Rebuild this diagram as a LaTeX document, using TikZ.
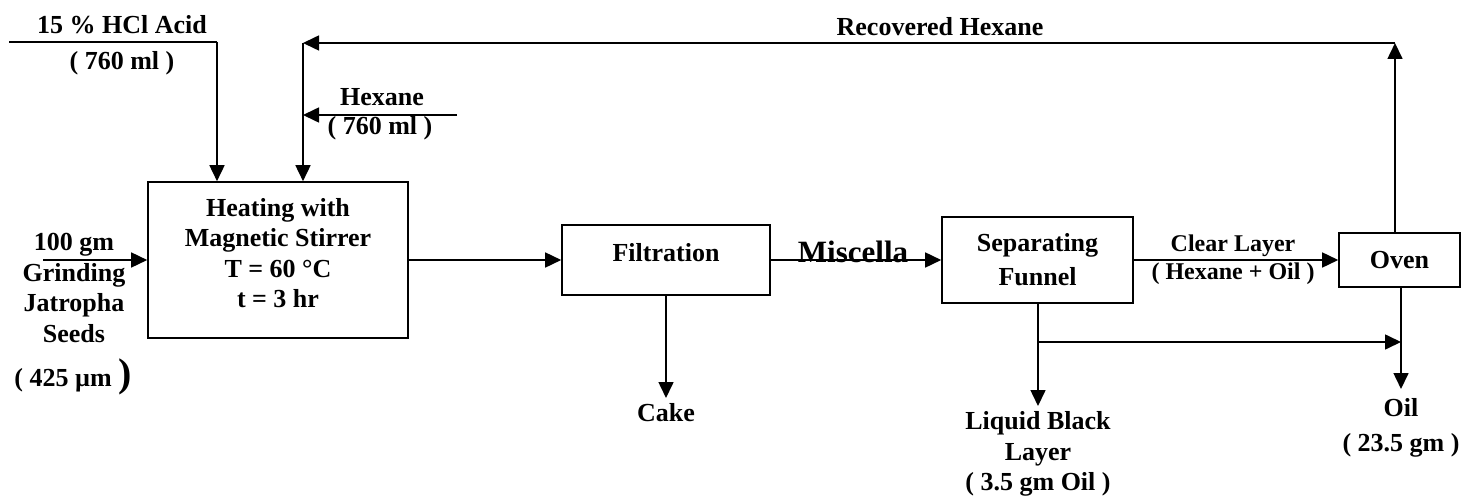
\documentclass[tikz,border=0pt]{standalone}
\usepackage{fontspec}
\setmainfont{Liberation Serif}
\usetikzlibrary{arrows.meta}
\tikzset{
  pbox/.style={draw, line width=1.6pt, inner sep=0pt},
  txt/.style={inner sep=0pt, align=center, font=\bfseries\fontsize{26}{30.5}\selectfont},
  stxt/.style={inner sep=0pt, align=center, font=\bfseries\fontsize{24}{28}\selectfont},
  flow/.style={line width=1.6pt, -{Triangle[length=16pt,width=15pt]}},
  plain/.style={line width=1.6pt}
}
\begin{document}
\begin{tikzpicture}[x=1pt,y=-1pt]
\useasboundingbox (0,0) rectangle (1463,497);
% boxes
\node[pbox, minimum width=260pt, minimum height=156pt] (heat) at (278,260) {};
\node[txt] (heattxt) at (278,253) {Heating with\\Magnetic Stirrer\\T = 60 °C\\t = 3 hr};
\node[pbox, minimum width=208pt, minimum height=70pt] (filt) at (666,260) {};
\node[txt] (filttxt) at (666,253) {Filtration};
\node[pbox, minimum width=191pt, minimum height=86pt] (sep) at (1037.5,260) {};
\node[txt, font=\bfseries\fontsize{26}{34}\selectfont] (septxt) at (1037.5,260) {Separating\\Funnel};
\node[pbox, minimum width=121pt, minimum height=54pt] (oven) at (1399.5,260) {};
\node[txt] (oventxt) at (1399.5,260) {Oven};
% labels
\node[txt] (hcl) at (122,25) {15 \% HCl Acid};
\node[txt] (hclv) at (122,63) {( 760 ml )};
\node[txt] (hex) at (382,97) {Hexane};
\node[txt] (hexv) at (380,128) {( 760 ml )};
\node[txt] (rec) at (940,27) {Recovered Hexane};
\node[txt] (seeds) at (74,288) {100 gm\\Grinding\\Jatropha\\Seeds};
\node[txt] (size) at (73,377) {( 425 µm {\fontsize{40}{40}\selectfont)}};
\node[txt, font=\bfseries\fontsize{31}{34}\selectfont] (misc) at (853,252) {Miscella};
\node[stxt] (clear) at (1233,246) {Clear Layer};
\node[stxt] (clearv) at (1233,274) {( Hexane + Oil )};
\node[txt] (cake) at (666,413) {Cake};
\node[txt] (black) at (1038,454) {Liquid Black\\Layer\\( 3.5 gm Oil )};
\node[txt] (oil) at (1401,408) {Oil};
\node[txt] (oilv) at (1401,445) {( 23.5 gm )};
% coordinates
\coordinate (hclS) at (9,42);
\coordinate (hclC) at (217,42);
\coordinate (recR) at (1395,43);
\coordinate (recL) at (303,43);
\coordinate (hexS) at (457,115);
\coordinate (hexE) at (303,115);
\coordinate (seedS) at (43,260);
\coordinate (cakeE) at (666,398);
\coordinate (blackE) at (1038,406);
\coordinate (brS) at (1038,342);
\coordinate (brE) at (1401,342);
\coordinate (oilE) at (1401,389);
% connectors
\draw[plain] (hclS) -- (hclC);
\draw[flow] (hclC) -- (hclC |- heat.north);
\draw[flow] (oven.north -| recR) -- (recR);
\draw[flow] (recR) -- (recL);
\draw[flow] (recL) -- (recL |- heat.north);
\draw[flow] (hexS) -- (hexE);
\draw[flow] (seedS) -- (heat.west);
\draw[flow] (heat.east) -- (filt.west);
\draw[flow] (filt.east) -- (sep.west);
\draw[flow] (sep.east) -- (oven.west);
\draw[flow] (filt.south) -- (cakeE);
\draw[flow] (sep.south -| blackE) -- (blackE);
\draw[flow] (brS) -- (brE);
\draw[flow] (oven.south -| oilE) -- (oilE);
\end{tikzpicture}
\end{document}
